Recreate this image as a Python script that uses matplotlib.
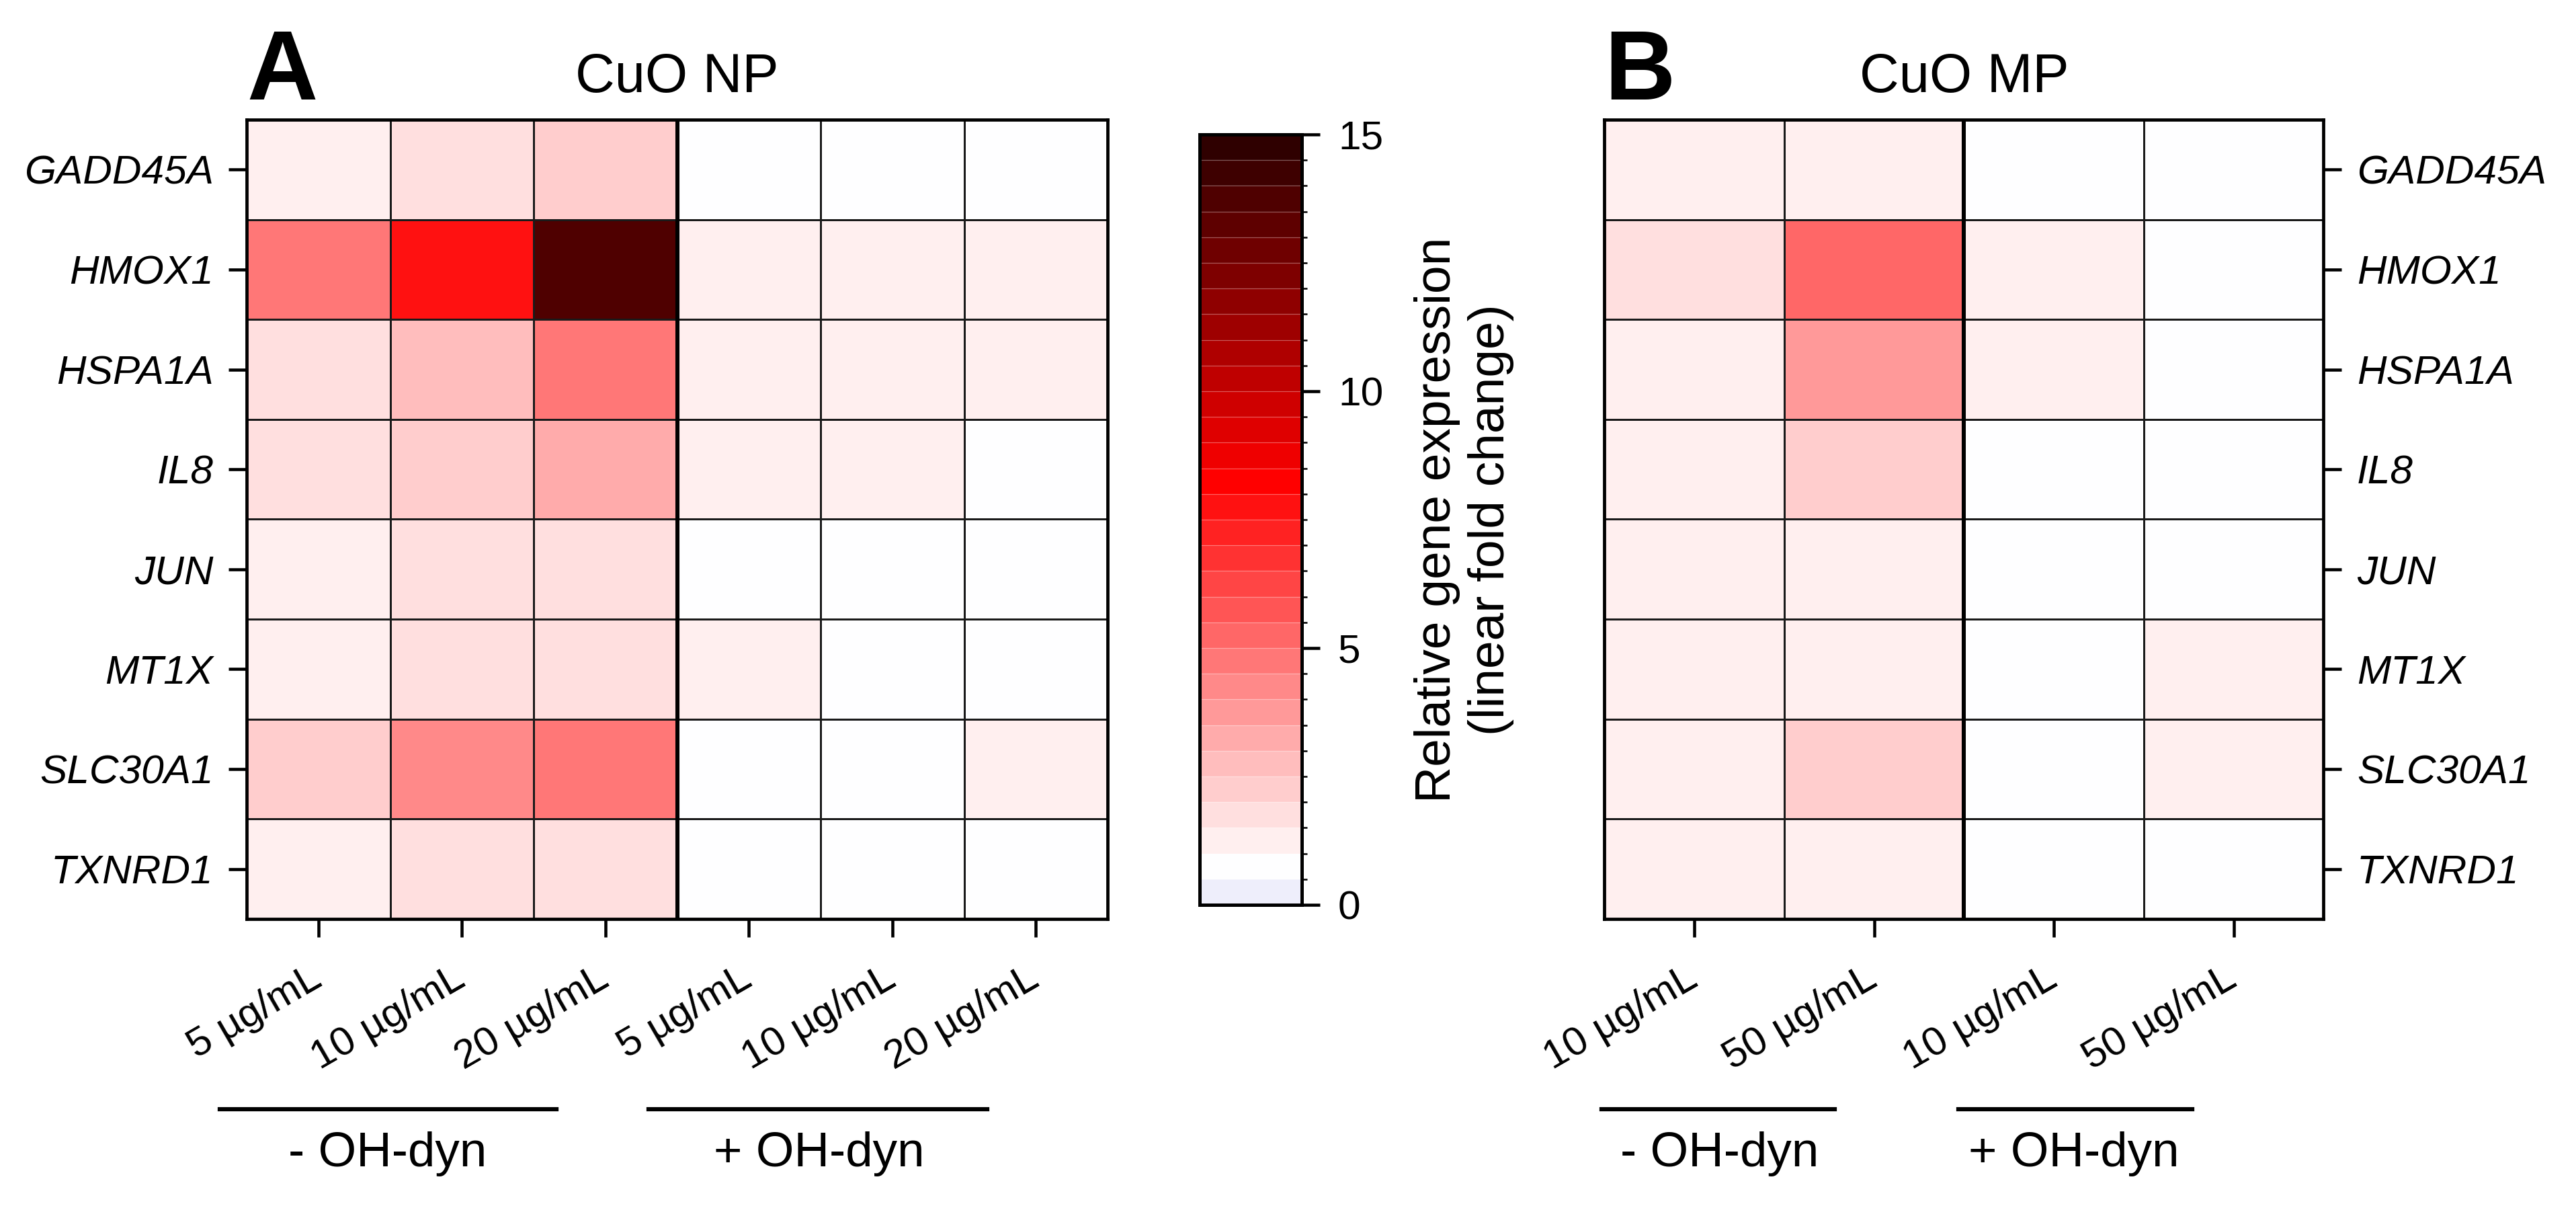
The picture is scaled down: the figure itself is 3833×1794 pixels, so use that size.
import numpy as np
import matplotlib
matplotlib.use("Agg")
import matplotlib.pyplot as plt
from matplotlib.colors import LinearSegmentedColormap, ListedColormap, BoundaryNorm
from matplotlib.transforms import ScaledTranslation

plt.rcParams['font.family'] = ['Liberation Sans', 'DejaVu Sans']

genes = ["GADD45A", "HMOX1", "HSPA1A", "IL8", "JUN", "MT1X", "SLC30A1", "TXNRD1"]

# CuO NP : -OH-dyn (5, 10, 20 µg/mL), +OH-dyn (5, 10, 20 µg/mL)
np_labels = ["5 µg/mL", "10 µg/mL", "20 µg/mL", "5 µg/mL", "10 µg/mL", "20 µg/mL"]
np_vals = np.array([
    [1.2, 1.7, 2.2, 0.8, 0.8, 0.8],
    [4.7, 7.7, 13.8, 1.2, 1.2, 1.2],
    [1.7, 2.7, 4.7, 1.2, 1.2, 1.2],
    [1.7, 2.2, 3.2, 1.2, 1.2, 0.8],
    [1.2, 1.7, 1.7, 0.8, 0.8, 0.8],
    [1.2, 1.7, 1.7, 1.2, 0.8, 0.8],
    [2.2, 4.2, 4.7, 0.8, 0.8, 1.2],
    [1.2, 1.7, 1.7, 0.8, 0.8, 0.8],
])

# CuO MP : -OH-dyn (10, 50 µg/mL), +OH-dyn (10, 50 µg/mL)
mp_labels = ["10 µg/mL", "50 µg/mL", "10 µg/mL", "50 µg/mL"]
mp_vals = np.array([
    [1.2, 1.2, 0.8, 0.8],
    [1.7, 5.2, 1.2, 0.8],
    [1.2, 3.7, 1.2, 0.8],
    [1.2, 2.2, 0.8, 0.8],
    [1.2, 1.2, 0.8, 0.8],
    [1.2, 1.2, 0.8, 1.2],
    [1.2, 2.2, 0.8, 1.2],
    [1.2, 1.2, 0.8, 0.8],
])

groups = ["- OH-dyn", "+ OH-dyn"]
cbar_ticks = [0, 5, 10, 15]

# discrete colour scale, 30 steps of 0.5
base = LinearSegmentedColormap.from_list("wr", [
    (0.0, "#eeeefb"), (0.25 / 15, "#eeeefb"), (0.75 / 15, "#ffffff"),
    (8.25 / 15, "#ff0000"), (14.75 / 15, "#2f0000"), (1.0, "#2f0000")])
bounds = np.arange(0, 15.01, 0.5)
centers = (bounds[:-1] + bounds[1:]) / 2
cmap = ListedColormap(base(centers / 15))
norm = BoundaryNorm(bounds, cmap.N)

fig = plt.figure(figsize=(3833 / 300, 1794 / 300), dpi=300)
axA = fig.add_axes([0.0958, 0.2380, 0.3342, 0.6628])
cax = fig.add_axes([0.4657, 0.2497, 0.0397, 0.6388])
axB = fig.add_axes([0.6228, 0.2380, 0.2792, 0.6628])

shift = ScaledTranslation(4.3 / 72, 0, fig.dpi_scale_trans)


def draw(ax, vals, xlabels, side, line_span, label_x):
    nr, nc = vals.shape
    mesh = ax.pcolormesh(np.arange(nc + 1), np.arange(nr + 1), vals, cmap=cmap, norm=norm,
                         edgecolors="#1a1a1a", linewidth=0.35)
    ax.set_xlim(0, nc)
    ax.set_ylim(nr, 0)
    ax.axvline(nc / 2, color="black", lw=1.45)
    for s in ax.spines.values():
        s.set_linewidth(1.15)
    ax.set_yticks(np.arange(nr) + 0.5)
    ax.set_yticklabels(genes, fontsize=14.5, style="italic")
    ax.set_xticks(np.arange(nc) + 0.5)
    ax.set_xticklabels(xlabels, fontsize=14.5, rotation=30, ha="right", va="center",
                       rotation_mode="anchor")
    for lab in ax.get_xticklabels():
        lab.set_transform(lab.get_transform() + shift)
    ax.tick_params(axis="both", length=6.4, width=1.1, pad=5.5)
    ax.tick_params(axis="x", pad=14)
    if side == "right":
        ax.yaxis.tick_right()
    tr = ax.get_xaxis_transform()
    for (x0, x1), lx, g in zip(line_span, label_x, groups):
        ax.plot([x0, x1], [-0.238, -0.238], color="black", lw=1.5, transform=tr, clip_on=False)
        ax.text(lx, -0.3095, g, transform=tr, ha="center", va="baseline", fontsize=17.5)
    return mesh


mesh = draw(axA, np_vals, np_labels, "left", [(-0.19, 2.16), (2.80, 5.16)], [0.98, 3.99])
draw(axB, mp_vals, mp_labels, "right", [(-0.015, 1.28), (1.97, 3.27)], [0.64, 2.61])

axA.set_title("CuO NP", fontsize=19.5, pad=9.8)
axB.set_title("CuO MP", fontsize=19.5, pad=9.8)
fig.text(0.0958, 0.9175, "A", fontsize=35, fontweight="bold", ha="left", va="baseline")
fig.text(0.6228, 0.9175, "B", fontsize=35, fontweight="bold", ha="left", va="baseline")

cb = fig.colorbar(mesh, cax=cax, ticks=cbar_ticks, drawedges=True)
cb.outline.set_linewidth(1.2)
cb.dividers.set_color("white")
cb.dividers.set_alpha(0.35)
cb.dividers.set_linewidth(0.3)
cb.ax.tick_params(length=6.4, width=1.1, labelsize=14.5, pad=6.5)
cb.set_label("Relative gene expression\n(linear fold change)", fontsize=18, labelpad=11)

fig.savefig("out.png", dpi=300)
